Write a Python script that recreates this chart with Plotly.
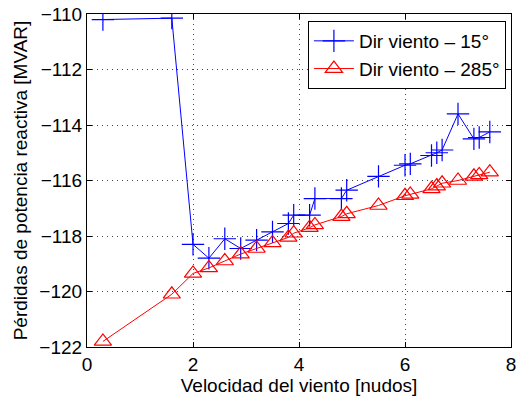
import plotly.graph_objects as go

# Wind speed [knots] and reactive power losses [MVAR] for two wind directions
velocidad = [0.3, 1.6, 2.0, 2.3, 2.6, 2.9, 3.2, 3.5, 3.8, 3.9, 4.2, 4.3, 4.8, 4.9,
             5.5, 6.0, 6.1, 6.5, 6.6, 6.7, 7.0, 7.3, 7.4, 7.6]
perdidas_15 = [-110.2, -110.15, -118.3, -118.8, -118.1, -118.45, -118.15, -117.85,
               -117.55, -117.25, -117.25, -116.65, -116.65, -116.35, -115.85, -115.45,
               -115.4, -115.1, -115.0, -114.9, -113.6, -114.5, -114.45, -114.25]
perdidas_285 = [-121.8, -120.1, -119.35, -119.15, -118.9, -118.65, -118.45, -118.25,
                -118.05, -117.9, -117.7, -117.6, -117.3, -117.2, -116.9, -116.55,
                -116.5, -116.3, -116.2, -116.1, -116.0, -115.85, -115.8, -115.7]

x_ticks = [0, 2, 4, 6, 8]
y_ticks = [-122, -120, -118, -116, -114, -112, -110]

FONT = "Liberation Sans, Arial, Helvetica, sans-serif"

fig = go.Figure()
fig.add_trace(go.Scatter(
    x=velocidad, y=perdidas_15, mode="lines+markers",
    name="Dir viento \u2013 15\u00b0",
    line=dict(color="#0000ff", width=1),
    marker=dict(symbol="cross-thin", size=16, line=dict(color="#0000ff", width=1.2)),
))
fig.add_trace(go.Scatter(
    x=velocidad, y=perdidas_285, mode="lines+markers",
    name="Dir viento \u2013 285\u00b0",
    line=dict(color="#ff0000", width=1),
    marker=dict(symbol="triangle-up-open", size=15, color="#ff0000",
                line=dict(color="#ff0000", width=1.2)),
))

axis_common = dict(
    showline=True, linecolor="black", linewidth=1.2, mirror="allticks",
    ticks="inside", ticklen=5, tickcolor="black",
    showgrid=True, gridcolor="#444444", griddash="1px,4px", gridwidth=1,
    zeroline=False, ticklabeloverflow="allow",
    tickfont=dict(family=FONT, size=19, color="black"),
)

fig.update_xaxes(range=[0, 8], tickvals=x_ticks,
                 title=dict(text="Velocidad del viento [nudos]",
                            font=dict(family=FONT, size=19, color="black"), standoff=4),
                 **axis_common)
fig.update_yaxes(range=[-122, -110], tickvals=y_ticks,
                 title=dict(text="P\u00e9rdidas de potencia reactiva [MVAR]",
                            font=dict(family=FONT, size=19, color="black"), standoff=6),
                 **axis_common)

fig.update_layout(
    width=519, height=399,
    margin=dict(l=87, r=3, t=14, b=52),
    paper_bgcolor="white", plot_bgcolor="white",
    font=dict(family=FONT, size=19, color="black"),
    legend=dict(x=0.988, y=0.979, xanchor="right", yanchor="top",
                bgcolor="white", bordercolor="black", borderwidth=1,
                itemwidth=40, tracegroupgap=0,
                font=dict(family=FONT, size=19, color="black")),
    showlegend=True,
)

fig.write_html("out.html")
